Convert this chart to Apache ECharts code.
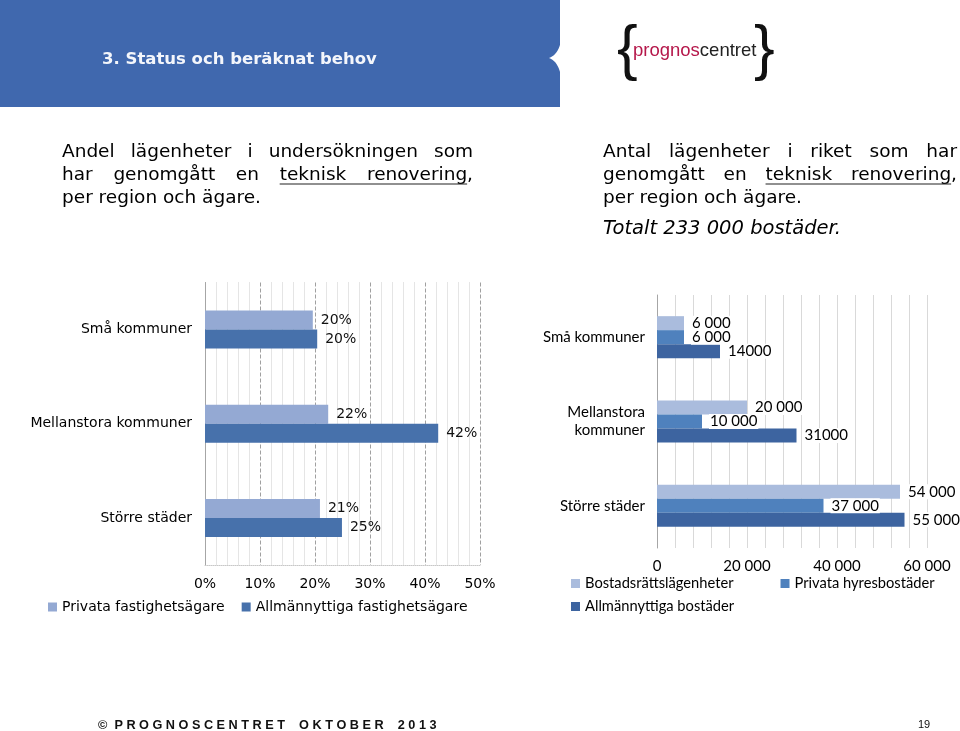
<!DOCTYPE html>
<html><head><meta charset="utf-8">
<script src="https://cdn.jsdelivr.net/npm/echarts@6/dist/echarts.min.js"></script>
<style>html,body{margin:0;padding:0;background:#fff}#c{width:960px;height:731px}</style>
</head><body><div id="c"></div>
<script>
// ---- data ----
const leftCategories = ['Små kommuner', 'Mellanstora kommuner', 'Större städer'];
const leftSeriesNames = ['Privata fastighetsägare', 'Allmännyttiga fastighetsägare'];
const leftPrivata = [0.196, 0.224, 0.209];
const leftAllmannyttiga = [0.204, 0.424, 0.249];
const leftTicks = [0, 0.1, 0.2, 0.3, 0.4, 0.5];

const rightCategories = ['Små kommuner', 'Mellanstora\nkommuner', 'Större städer'];
const rightSeriesNames = ['Bostadsrättslägenheter', 'Privata hyresbostäder', 'Allmännyttiga bostäder'];
const rightBostadsratt = [6000, 20000, 54000];
const rightPrivataHyres = [6000, 10000, 37000];
const rightAllmannyttiga = [14000, 31000, 55000];
const rightAllmannyttigaLabels = ['14000', '31000', '55 000'];
const rightTicks = [0, 20000, 40000, 60000];

const headerTitle = '3. Status och beräknat behov';
const leftText = ['Andel lägenheter i undersökningen som', 'har genomgått en teknisk renovering,', 'per region och ägare.'];
const rightText = ['Antal lägenheter i riket som har', 'genomgått en teknisk renovering,', 'per region och ägare.'];
const rightTotal = 'Totalt 233 000 bostäder.';
const footerText = '©  P R O G N O S C E N T R E T    O K T O B E R    2 0 1 3';
const pageNumber = '19';

// ---- helpers ----
const spaced = v => String(v).replace(/\B(?=(\d{3})+(?!\d))/g, ' ');
const pct = v => Math.round(v * 100) + '%';
const mctx = document.createElement('canvas').getContext('2d');
const PFONT = '18.5px "DejaVu Sans"';

function justified(line, x0, x1, y, justify) {
  const words = line.split(' ');
  mctx.font = PFONT;
  const w = words.map(s => mctx.measureText(s).width);
  const tot = w.reduce((a, b) => a + b, 0);
  const gap = justify ? (x1 - x0 - tot) / (words.length - 1) : mctx.measureText(' ').width;
  const els = [];
  let x = x0;
  let uStart = null, uEnd = null;
  words.forEach((s, i) => {
    els.push({type: 'text', style: {text: s, x: x, y: y, font: PFONT, fill: '#000', verticalAlign: 'middle'}});
    if (s === 'teknisk') uStart = x;
    if (s.indexOf('renovering') === 0) uEnd = x + mctx.measureText('renovering').width;
    x += w[i] + gap;
  });
  if (uStart !== null && uEnd !== null) {
    els.push({type: 'line', shape: {x1: uStart, y1: y + 9, x2: uEnd, y2: y + 9}, style: {stroke: '#222', lineWidth: 1.2}});
  }
  return els;
}

// notch shape points (concave curves) on the right edge of the header band
const notchPts = [];
for (let t = 0; t <= 1.0001; t += 0.1) {
  const a = 1 - t;
  notchPts.push([a * a * 561 + 2 * a * t * 558 + t * t * 549, a * a * 41 + 2 * a * t * 55 + t * t * 58]);
}
for (let t = 0.1; t <= 1.0001; t += 0.1) {
  const a = 1 - t;
  notchPts.push([a * a * 549 + 2 * a * t * 558 + t * t * 561, a * a * 58 + 2 * a * t * 61 + t * t * 76]);
}

const graphics = [
  {type: 'rect', shape: {x: 0, y: 0, width: 560, height: 107}, style: {fill: '#4068ae'}},
  {type: 'polygon', shape: {points: notchPts}, style: {fill: '#fff'}},
  {type: 'text', style: {text: headerTitle, x: 102, y: 60, font: 'bold 16.5px "DejaVu Sans"', fill: '#f4f6fb', verticalAlign: 'middle'}},
  {type: 'text', style: {text: '{', x: 617, y: 51, font: '62px "Liberation Sans"', fill: '#111', verticalAlign: 'middle'}},
  {type: 'text', style: {text: '}', x: 754, y: 51, font: '62px "Liberation Sans"', fill: '#111', verticalAlign: 'middle'}},
  {type: 'text', style: {text: '{p|prognos}{c|centret}', x: 633, y: 51, verticalAlign: 'middle',
     rich: {p: {fontSize: 18.5, fontFamily: 'Liberation Sans', fill: '#b5174a'}, c: {fontSize: 18.5, fontFamily: 'Liberation Sans', fill: '#222'}}}},
  {type: 'text', style: {text: footerText, x: 98, y: 725, font: 'bold 12.7px "Liberation Sans"', fill: '#111', verticalAlign: 'middle'}},
  {type: 'text', style: {text: pageNumber, x: 918, y: 725, font: '11px "Liberation Sans Narrow", "Liberation Sans"', fill: '#111', verticalAlign: 'middle'}},
  {type: 'text', style: {text: rightTotal, x: 603, y: 229, font: 'italic 19.5px "DejaVu Sans"', fill: '#000', verticalAlign: 'middle'}}
];
const ys = [152, 175, 198];
leftText.forEach((l, i) => justified(l, 62, 473, ys[i], i < 2).forEach(e => graphics.push(e)));
rightText.forEach((l, i) => justified(l, 603, 957, ys[i], i < 2).forEach(e => graphics.push(e)));

const chart = echarts.init(document.getElementById('c'), null, {renderer: 'canvas'});
const LFONT = 'DejaVu Sans';
const RFONT = 'Lato';
chart.setOption({
  animation: false,
  graphic: {elements: graphics},
  grid: [
    {left: 205, width: 275, top: 282.5, height: 282.5},
    {left: 657, width: 270, top: 295, height: 253}
  ],
  legend: [
    {data: leftSeriesNames, left: 43, top: 595, icon: 'rect', itemWidth: 9, itemHeight: 9, itemGap: 17,
     textStyle: {fontFamily: LFONT, fontSize: 14, color: '#000'}},
    {data: rightSeriesNames.slice(0, 2), left: 566, top: 571, icon: 'rect', itemWidth: 9, itemHeight: 9, itemGap: 47,
     textStyle: {fontFamily: RFONT, fontSize: 14.7, color: '#000'}},
    {data: rightSeriesNames.slice(2), left: 566, top: 594, icon: 'rect', itemWidth: 9, itemHeight: 9,
     textStyle: {fontFamily: RFONT, fontSize: 14.7, color: '#000'}}
  ],
  xAxis: [
    {type: 'value', gridIndex: 0, min: leftTicks[0], max: leftTicks[leftTicks.length - 1], interval: leftTicks[1] - leftTicks[0],
     axisLine: {show: true, lineStyle: {color: '#c8c8c8', type: 'dotted'}}, axisTick: {show: false},
     axisLabel: {formatter: pct, fontFamily: LFONT, fontSize: 14, color: '#000', margin: 12},
     splitLine: {show: true, lineStyle: {color: '#a0a0a0', type: [4, 2]}},
     minorTick: {show: false, splitNumber: 5},
     minorSplitLine: {show: true, lineStyle: {color: '#cccccc', type: 'dotted'}}},
    {type: 'value', gridIndex: 1, min: rightTicks[0], max: rightTicks[rightTicks.length - 1], interval: rightTicks[1] - rightTicks[0],
     axisLine: {show: false}, axisTick: {show: false},
     axisLabel: {formatter: v => spaced(v), fontFamily: RFONT, fontSize: 15, color: '#000', margin: 11},
     splitLine: {show: true, lineStyle: {color: '#d9d9d9'}},
     minorTick: {show: false, splitNumber: 5},
     minorSplitLine: {show: true, lineStyle: {color: '#d9d9d9'}}}
  ],
  yAxis: [
    {type: 'category', gridIndex: 0, data: leftCategories, inverse: true,
     axisLine: {show: true, lineStyle: {color: '#a6a6a6'}}, axisTick: {show: false},
     axisLabel: {fontFamily: LFONT, fontSize: 14, color: '#000', margin: 13}},
    {type: 'category', gridIndex: 1, data: rightCategories, inverse: true,
     axisLine: {show: true, lineStyle: {color: '#a6a6a6'}}, axisTick: {show: false},
     axisLabel: {fontFamily: RFONT, fontSize: 15, color: '#000', margin: 12, lineHeight: 18}}
  ],
  series: [
    {type: 'bar', name: leftSeriesNames[0], xAxisIndex: 0, yAxisIndex: 0, data: leftPrivata, barWidth: 19, barGap: '0%',
     itemStyle: {color: '#94a9d3'},
     label: {show: true, position: 'right', distance: 8, formatter: p => pct(p.value), fontFamily: LFONT, fontSize: 14, color: '#111'}},
    {type: 'bar', name: leftSeriesNames[1], xAxisIndex: 0, yAxisIndex: 0, data: leftAllmannyttiga, barWidth: 19, barGap: '0%',
     itemStyle: {color: '#4771ab'},
     label: {show: true, position: 'right', distance: 8, formatter: p => pct(p.value), fontFamily: LFONT, fontSize: 14, color: '#111'}},
    {type: 'bar', name: rightSeriesNames[0], xAxisIndex: 1, yAxisIndex: 1, data: rightBostadsratt, barWidth: 14, barGap: '0%',
     itemStyle: {color: '#aabcdd'},
     label: {show: true, position: 'right', distance: 7, formatter: p => spaced(p.value), fontFamily: RFONT, fontSize: 15, color: '#000', backgroundColor: '#fff', padding: [0, 1]}},
    {type: 'bar', name: rightSeriesNames[1], xAxisIndex: 1, yAxisIndex: 1, data: rightPrivataHyres, barWidth: 14, barGap: '0%',
     itemStyle: {color: '#4f81bd'},
     label: {show: true, position: 'right', distance: 7, formatter: p => spaced(p.value), fontFamily: RFONT, fontSize: 15, color: '#000', backgroundColor: '#fff', padding: [0, 1]}},
    {type: 'bar', name: rightSeriesNames[2], xAxisIndex: 1, yAxisIndex: 1, data: rightAllmannyttiga, barWidth: 14, barGap: '0%',
     itemStyle: {color: '#3d64a0'},
     label: {show: true, position: 'right', distance: 7, formatter: p => rightAllmannyttigaLabels[p.dataIndex], fontFamily: RFONT, fontSize: 15, color: '#000', backgroundColor: '#fff', padding: [0, 1]}}
  ]
});
</script>
</body></html>
